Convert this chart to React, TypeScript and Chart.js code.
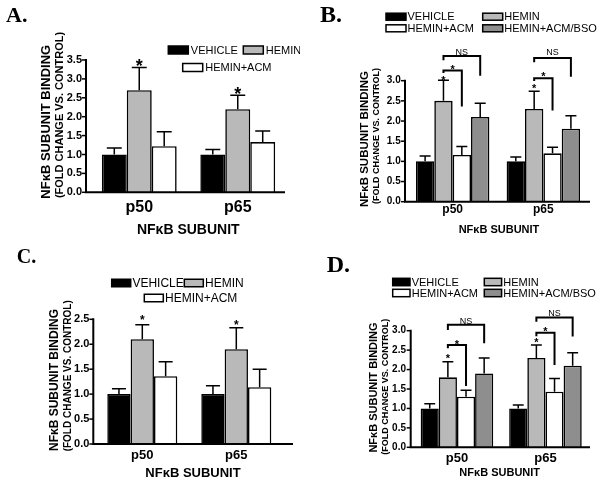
import React, { useEffect, useRef } from 'react';
import { Chart, registerables } from 'chart.js';

Chart.register(...registerables);

// ---------- data ----------
const SUBUNITS = ['p50', 'p65'];
const GROUP_LABELS = ['VEHICLE', 'HEMIN', 'HEMIN+ACM', 'HEMIN+ACM/BSO'];
const GROUP_COLORS = ['#000000', '#b9b9b9', '#ffffff', '#8e8e8e'];
const Y_TICK_STEP = 0.5;

// Panel A
const A_VEHICLE = [1.0, 1.0];
const A_VEHICLE_SEM = [0.17, 0.13];
const A_HEMIN = [2.7, 2.2];
const A_HEMIN_SEM = [0.6, 0.37];
const A_ACM = [1.22, 1.33];
const A_ACM_SEM = [0.38, 0.29];
const A_Y_MAX = 3.5;
const A_STARS = [3.46, 2.73]; // star heights over HEMIN (p50, p65)

// Panel B
const B_VEHICLE = [1.0, 1.0];
const B_VEHICLE_SEM = [0.13, 0.11];
const B_HEMIN = [2.5, 2.3];
const B_HEMIN_SEM = [0.51, 0.44];
const B_ACM = [1.16, 1.2];
const B_ACM_SEM = [0.21, 0.15];
const B_BSO = [2.1, 1.81];
const B_BSO_SEM = [0.34, 0.32];
const B_Y_MAX = 3.0;
const B_STARS = [3.07, 2.89];
// brackets: [category, fromGroup, toGroup, top, leftEnd, rightEnd, label, labelAt]
const B_BRACKETS: [number, number, number, number, number, number, string, number][] = [
  [0, 1, 3, 3.61, 3.51, 3.12, 'NS', 3.69],
  [0, 1, 2, 3.25, 3.19, 2.36, '*', 3.36],
  [1, 1, 3, 3.56, 3.46, 3.1, 'NS', 3.69],
  [1, 1, 2, 3.06, 2.99, 2.26, '*', 3.17],
];

// Panel C
const C_VEHICLE = [1.0, 1.0];
const C_VEHICLE_SEM = [0.11, 0.17];
const C_HEMIN = [2.1, 1.9];
const C_HEMIN_SEM = [0.29, 0.43];
const C_ACM = [1.36, 1.14];
const C_ACM_SEM = [0.29, 0.36];
const C_Y_MAX = 2.5;
const C_STARS = [2.55, 2.45];

// Panel D
const D_VEHICLE = [1.0, 1.0];
const D_VEHICLE_SEM = [0.12, 0.09];
const D_HEMIN = [1.8, 2.3];
const D_HEMIN_SEM = [0.4, 0.33];
const D_ACM = [1.3, 1.43];
const D_ACM_SEM = [0.17, 0.34];
const D_BSO = [1.9, 2.1];
const D_BSO_SEM = [0.4, 0.33];
const D_Y_MAX = 3.0;
const D_STARS = [2.37, 2.76];
const D_BRACKETS: [number, number, number, number, number, number, string, number][] = [
  [0, 1, 3, 3.15, 3.02, 2.68, 'NS', 3.23],
  [0, 1, 2, 2.63, 2.55, 1.58, '*', 2.72],
  [1, 1, 3, 3.34, 3.23, 2.85, 'NS', 3.43],
  [1, 1, 2, 2.95, 2.86, 2.12, '*', 3.06],
];

const Y_TITLE_1 = 'NFκB SUBUNIT BINDING';
const Y_TITLE_2 = '(FOLD CHANGE VS. CONTROL)';
const X_TITLE = 'NFκB SUBUNIT';

const SANS = '"Liberation Sans", Arial, Helvetica, sans-serif';
const SERIF = '"Liberation Serif", "Times New Roman", serif';

// ---------- panel layouts (page coordinates) ----------
type Panel = {
  key: string;
  x0: number; y0: number; w: number; h: number;
  left: number; right: number; top: number; bottom: number;
  axisX: number; xLineRight: number;
  yMax: number; yTickSize: number; yTickPad: number;
  xTickSize: number; xTickPad: number;
  catPct: number;
  series: { values: number[]; sem: number[] }[];
  legendSize: number; boxW: number; boxH: number; gap: number;
  legendPos: [number, number][];
  yTitle: [number, number, number][];
  xTitle: [number, number, number];
  letter: [string, number, number, number];
  stars: number[]; starSize: number;
  brackets: [number, number, number, number, number, number, string, number][];
  nsSize: number;
};

const PANELS: Panel[] = [
  {
    key: 'A', x0: 0, y0: 0, w: 300, h: 240,
    left: 90, right: 287, top: 60, bottom: 192.3, axisX: 86, xLineRight: 285,
    yMax: A_Y_MAX, yTickSize: 11, yTickPad: 8, xTickSize: 16, xTickPad: 6, catPct: 0.76,
    series: [
      { values: A_VEHICLE, sem: A_VEHICLE_SEM },
      { values: A_HEMIN, sem: A_HEMIN_SEM },
      { values: A_ACM, sem: A_ACM_SEM },
    ],
    legendSize: 11, boxW: 20, boxH: 8, gap: 2.5,
    legendPos: [[168.3, 50], [243.3, 50], [182.7, 67.5]],
    yTitle: [[46.7, 121.7, 13], [60, 115, 11]],
    xTitle: [188.3, 230, 14],
    letter: ['A.', 6, 21.7, 22],
    stars: A_STARS, starSize: 18, brackets: [], nsSize: 9,
  },
  {
    key: 'B', x0: 300, y0: 0, w: 303, h: 240,
    left: 407.3, right: 588.7, top: 80.7, bottom: 201.7, axisX: 405, xLineRight: 590,
    yMax: B_Y_MAX, yTickSize: 10, yTickPad: 6.6, xTickSize: 12, xTickPad: 1.1, catPct: 0.81,
    series: [
      { values: B_VEHICLE, sem: B_VEHICLE_SEM },
      { values: B_HEMIN, sem: B_HEMIN_SEM },
      { values: B_ACM, sem: B_ACM_SEM },
      { values: B_BSO, sem: B_BSO_SEM },
    ],
    legendSize: 11, boxW: 20, boxH: 7, gap: 1.5,
    legendPos: [[386, 16.7], [482.7, 16.7], [386, 28.3], [482.7, 28.3]],
    yTitle: [[364.5, 139, 11.5], [377, 136, 9]],
    xTitle: [499, 230, 11],
    letter: ['B.', 320, 21.7, 24],
    stars: B_STARS, starSize: 11, brackets: B_BRACKETS, nsSize: 9,
  },
  {
    key: 'C', x0: 0, y0: 240, w: 300, h: 244,
    left: 95.3, right: 283.3, top: 319.3, bottom: 444, axisX: 93.3, xLineRight: 293,
    yMax: C_Y_MAX, yTickSize: 11, yTickPad: 6, xTickSize: 13, xTickPad: 3.2, catPct: 0.745,
    series: [
      { values: C_VEHICLE, sem: C_VEHICLE_SEM },
      { values: C_HEMIN, sem: C_HEMIN_SEM },
      { values: C_ACM, sem: C_ACM_SEM },
    ],
    legendSize: 12, boxW: 19, boxH: 7.5, gap: 1.7,
    legendPos: [[111.7, 283], [184.3, 283], [144.3, 298]],
    yTitle: [[55, 380, 12], [68.3, 375.8, 10]],
    xTitle: [193, 473.3, 13],
    letter: ['C.', 16.7, 263.3, 20],
    stars: C_STARS, starSize: 12, brackets: [], nsSize: 9,
  },
  {
    key: 'D', x0: 300, y0: 240, w: 303, h: 244,
    left: 412.7, right: 589.7, top: 330.7, bottom: 447.3, axisX: 410.7, xLineRight: 590,
    yMax: D_Y_MAX, yTickSize: 10, yTickPad: 6.7, xTickSize: 13, xTickPad: 3.2, catPct: 0.82,
    series: [
      { values: D_VEHICLE, sem: D_VEHICLE_SEM },
      { values: D_HEMIN, sem: D_HEMIN_SEM },
      { values: D_ACM, sem: D_ACM_SEM },
      { values: D_BSO, sem: D_BSO_SEM },
    ],
    legendSize: 11, boxW: 17.3, boxH: 7.4, gap: 1.7,
    legendPos: [[392.7, 282], [484.3, 282], [392.7, 293], [484.3, 293]],
    yTitle: [[373.5, 387.5, 11], [385.3, 386.7, 9]],
    xTitle: [499.7, 473.3, 11],
    letter: ['D.', 326.7, 271.7, 24],
    stars: D_STARS, starSize: 11, brackets: D_BRACKETS, nsSize: 9,
  },
];

function drawStar(ctx: CanvasRenderingContext2D, x: number, cy: number, size: number) {
  ctx.font = `bold ${size}px ${SANS}`;
  ctx.textAlign = 'center';
  ctx.textBaseline = 'alphabetic';
  ctx.fillText('*', x, cy + size * 0.58);
}

function makePlugin(p: Panel) {
  return {
    id: 'figure' + p.key,
    afterDraw(chart: any) {
      const ctx: CanvasRenderingContext2D = chart.ctx;
      const ys = chart.scales.y;
      const ox = p.x0, oy = p.y0;
      const area = chart.chartArea;
      ctx.save();
      ctx.fillStyle = '#000';
      ctx.strokeStyle = '#000';

      // error bars
      ctx.lineWidth = 1.5;
      p.series.forEach((s, i) => {
        const meta = chart.getDatasetMeta(i);
        meta.data.forEach((el: any, j: number) => {
          const capY = ys.getPixelForValue(s.values[j] + s.sem[j]);
          const half = el.width * 0.3;
          ctx.beginPath();
          ctx.moveTo(el.x, el.y);
          ctx.lineTo(el.x, capY);
          ctx.moveTo(el.x - half, capY);
          ctx.lineTo(el.x + half, capY);
          ctx.stroke();
        });
      });

      // axes
      const ax = p.axisX - ox;
      ctx.lineWidth = 2;
      ctx.beginPath();
      ctx.moveTo(ax, ys.getPixelForValue(p.yMax) - 1);
      ctx.lineTo(ax, area.bottom);
      ctx.lineTo(p.xLineRight - ox, area.bottom);
      ctx.stroke();
      ctx.lineWidth = 1.5;
      ys.ticks.forEach((t: any) => {
        const y = ys.getPixelForValue(t.value);
        ctx.beginPath();
        ctx.moveTo(ax - 4, y);
        ctx.lineTo(ax, y);
        ctx.stroke();
      });

      // stars over HEMIN
      const hemMeta = chart.getDatasetMeta(1);
      p.stars.forEach((v, j) => {
        const el: any = hemMeta.data[j];
        drawStar(ctx, el.x, ys.getPixelForValue(v), p.starSize);
      });

      // brackets
      p.brackets.forEach(([cat, g1, g2, top, lEnd, rEnd, label, labelAt]) => {
        const x1 = (chart.getDatasetMeta(g1).data[cat] as any).x;
        const x2 = (chart.getDatasetMeta(g2).data[cat] as any).x;
        ctx.lineWidth = 2;
        ctx.beginPath();
        ctx.moveTo(x1, ys.getPixelForValue(lEnd));
        ctx.lineTo(x1, ys.getPixelForValue(top));
        ctx.lineTo(x2, ys.getPixelForValue(top));
        ctx.lineTo(x2, ys.getPixelForValue(rEnd));
        ctx.stroke();
        const mx = (x1 + x2) / 2;
        const ly = ys.getPixelForValue(labelAt);
        if (label === '*') {
          drawStar(ctx, mx, ly, p.starSize);
        } else {
          ctx.font = `${p.nsSize}px ${SANS}`;
          ctx.textAlign = 'center';
          ctx.textBaseline = 'middle';
          ctx.fillText(label, mx, ly);
        }
      });

      // legend
      ctx.font = `${p.legendSize}px ${SANS}`;
      ctx.textAlign = 'left';
      ctx.textBaseline = 'middle';
      p.legendPos.forEach(([lx, ly], i) => {
        const x = lx - ox, y = ly - oy;
        const ds = chart.data.datasets[i];
        ctx.fillStyle = ds.backgroundColor;
        ctx.fillRect(x, y - p.boxH / 2, p.boxW, p.boxH);
        ctx.lineWidth = 1.5;
        ctx.strokeRect(x, y - p.boxH / 2, p.boxW, p.boxH);
        ctx.fillStyle = '#000';
        ctx.fillText(ds.label, x + p.boxW + p.gap, y + 0.5);
      });

      // y titles
      [Y_TITLE_1, Y_TITLE_2].forEach((txt, i) => {
        const [tx, ty, size] = p.yTitle[i];
        ctx.save();
        ctx.translate(tx - ox, ty - oy);
        ctx.rotate(-Math.PI / 2);
        ctx.font = `bold ${size}px ${SANS}`;
        ctx.textAlign = 'center';
        ctx.textBaseline = 'middle';
        ctx.fillText(txt, 0, 0);
        ctx.restore();
      });

      // x title
      ctx.font = `bold ${p.xTitle[2]}px ${SANS}`;
      ctx.textAlign = 'center';
      ctx.textBaseline = 'middle';
      ctx.fillText(X_TITLE, p.xTitle[0] - ox, p.xTitle[1] - oy);

      // panel letter
      const [lt, lx, ly, ls] = p.letter;
      ctx.font = `bold ${ls}px ${SERIF}`;
      ctx.textAlign = 'left';
      ctx.textBaseline = 'alphabetic';
      ctx.fillText(lt, lx - ox, ly - oy);

      ctx.restore();
    },
  };
}

function PanelChart({ p }: { p: Panel }) {
  const ref = useRef<HTMLCanvasElement>(null);
  useEffect(() => {
    const canvas = ref.current;
    if (!canvas) return;
    const yWidth = p.left - p.x0;
    const xHeight = p.y0 + p.h - p.bottom;
    const chart = new Chart(canvas, {
      type: 'bar',
      data: {
        labels: SUBUNITS,
        datasets: p.series.map((s, i) => ({
          label: GROUP_LABELS[i],
          data: s.values,
          backgroundColor: GROUP_COLORS[i],
          borderColor: '#000000',
          borderWidth: 1.6,
          categoryPercentage: p.catPct,
          barPercentage: 1,
        })),
      },
      options: {
        animation: false,
        responsive: false,
        maintainAspectRatio: false,
        layout: {
          padding: { top: p.top - p.y0, right: p.x0 + p.w - p.right, bottom: 0, left: 0 },
        },
        plugins: {
          legend: { display: false },
          tooltip: { enabled: false },
          title: { display: false },
        },
        scales: {
          x: {
            grid: { display: false, drawTicks: false },
            border: { display: false },
            ticks: {
              color: '#000',
              padding: p.xTickPad,
              font: { family: SANS, size: p.xTickSize, weight: 'bold' },
            },
            afterFit: (s: any) => { s.height = xHeight; },
          },
          y: {
            min: 0,
            max: p.yMax,
            grid: { display: false, drawTicks: false },
            border: { display: false },
            ticks: {
              stepSize: Y_TICK_STEP,
              color: '#000',
              padding: p.yTickPad,
              font: { family: SANS, size: p.yTickSize, weight: 'bold' },
              callback: (v: any) => Number(v).toFixed(1),
            },
            afterFit: (s: any) => { s.width = yWidth; },
          },
        },
      } as any,
      plugins: [makePlugin(p)],
    });
    return () => chart.destroy();
  }, [p]);
  return (
    <canvas
      ref={ref}
      width={p.w}
      height={p.h}
      style={{ position: 'absolute', left: p.x0, top: p.y0, width: p.w, height: p.h }}
    />
  );
}

export default function App() {
  return (
    <div style={{ position: 'fixed', left: 0, top: 0, width: 603, height: 484, background: '#fff' }}>
      {PANELS.map((p) => (
        <PanelChart key={p.key} p={p} />
      ))}
    </div>
  );
}
